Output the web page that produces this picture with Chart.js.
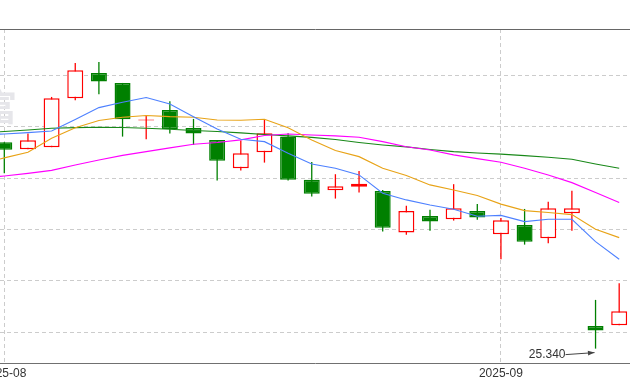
<!DOCTYPE html>
<html>
<head>
<meta charset="utf-8">
<script src="https://cdn.jsdelivr.net/npm/chart.js@4.4.1/dist/chart.umd.min.js"></script>
<style>
  html, body { margin: 0; padding: 0; background: #fff; }
  #wrap { width: 630px; height: 385px; }
</style>
</head>
<body>
<div id="wrap"><canvas id="kline"></canvas></div>
<script>
// Daily candles, 2025-08-01 .. 2025-09-08 (index 0..26)
const opens  = [27.348, 27.280, 27.300, 27.776, 28.022, 27.925, 27.560, 27.662, 27.487, 27.371,
                27.095, 27.251, 27.403, 26.982, 26.881, 26.916, 26.874, 26.471, 26.631, 26.599,
                26.680, 26.453, 26.544, 26.414, 26.658, 25.561, 25.568];
const highs  = [27.348, 27.432, 27.789, 28.120, 28.129, 27.925, 27.611, 27.747, 27.575, 27.371,
                27.364, 27.565, 27.436, 27.157, 27.037, 27.069, 26.884, 26.729, 26.690, 26.940,
                26.748, 26.612, 26.699, 26.768, 26.875, 25.814, 25.977];
const lows   = [27.047, 27.280, 27.300, 27.757, 27.815, 27.403, 27.377, 27.432, 27.322, 26.975,
                27.072, 27.150, 26.975, 26.819, 26.800, 26.858, 26.479, 26.449, 26.488, 26.586,
                26.595, 26.210, 26.352, 26.366, 26.488, 25.340, 25.568];
const closes = [27.276, 27.368, 27.776, 28.049, 27.938, 27.572, 27.570, 27.478, 27.432, 27.169,
                27.241, 27.436, 26.982, 26.848, 26.920, 26.943, 26.515, 26.680, 26.576, 26.706,
                26.615, 26.590, 26.381, 26.706, 26.706, 25.516, 25.704];

// moving averages, first value is the day before the visible window (index -1)
const ma5  = [27.420, 27.429, 27.442, 27.458, 27.570, 27.685, 27.737, 27.784, 27.721, 27.597, 27.478,
              27.377, 27.354, 27.241, 27.137, 27.095, 27.030, 26.852, 26.787, 26.738, 26.696,
              26.628, 26.636, 26.576, 26.599, 26.599, 26.381, 26.210];
const ma10 = [27.137, 27.196, 27.251, 27.387, 27.490, 27.560, 27.591, 27.609, 27.597, 27.591, 27.565,
              27.562, 27.572, 27.490, 27.370, 27.267, 27.208, 27.095, 27.025, 26.933, 26.884,
              26.829, 26.746, 26.683, 26.665, 26.644, 26.502, 26.420];
const ma20 = [26.996, 27.020, 27.045, 27.074, 27.127, 27.176, 27.220, 27.257, 27.293, 27.329, 27.346,
              27.371, 27.414, 27.429, 27.419, 27.410, 27.397, 27.354, 27.305, 27.273, 27.225,
              27.189, 27.154, 27.095, 27.030, 26.955, 26.858, 26.761];
const ma30 = [27.439, 27.453, 27.467, 27.484, 27.490, 27.494, 27.492, 27.484, 27.475, 27.463, 27.453,
              27.439, 27.424, 27.410, 27.395, 27.375, 27.346, 27.322, 27.303, 27.278, 27.257,
              27.244, 27.232, 27.218, 27.202, 27.183, 27.137, 27.095];

const tickIndex  = [0, 21];
const tickLabels = ['2025-08', '2025-09'];
const priceTicks = [25.5, 26.0, 26.5, 27.0, 27.5, 28.0];

const UP = '#ff0000';
const DOWN = '#008000';

const isUp = i => closes[i] >= opens[i];
const bodyData = opens.map((o, i) => ({ x: i, y: [o, closes[i]] }));
const wickData = lows.map((l, i) => ({ x: i, y: [l, highs[i]] }));
const maPoints = arr => arr.map((v, i) => ({ x: i - 1, y: v }));

function maLine(label, arr, color) {
    return {
        type: 'line',
        label: label,
        data: maPoints(arr),
        borderColor: color,
        borderWidth: 1.1,
        pointRadius: 0,
        tension: 0,
        order: 0
    };
}

// labels under the axis, watermark and the lowest-price marker
const overlay = {
    id: 'overlay',
    beforeDatasetsDraw(chart) {
        const ctx = chart.ctx;
        ctx.save();
        ctx.font = 'bold 36px "Noto Sans CJK SC", sans-serif';
        ctx.fillStyle = '#e6e6ea';
        ctx.textAlign = 'center';
        ctx.textBaseline = 'middle';
        ctx.fillText('富', -1, 107);
        ctx.restore();
    },
    afterDraw(chart) {
        const ctx = chart.ctx;
        const xs = chart.scales.x;
        const ys = chart.scales.y;
        ctx.save();
        ctx.font = '12px "Liberation Sans", Arial, sans-serif';
        ctx.fillStyle = '#333';
        ctx.textAlign = 'center';
        ctx.textBaseline = 'middle';
        tickIndex.forEach((v, k) => {
            ctx.fillText(tickLabels[k], xs.getPixelForValue(v), 374);
        });

        // lowest low
        let mi = 0;
        lows.forEach((v, i) => { if (v < lows[mi]) mi = i; });
        const px = xs.getPixelForValue(mi);
        const py = ys.getPixelForValue(lows[mi]);
        const sx = px - 30, sy = py + 6;
        const ex = px - 1, ey = py + 4;
        ctx.strokeStyle = '#444';
        ctx.fillStyle = '#444';
        ctx.lineWidth = 1;
        ctx.beginPath();
        ctx.moveTo(sx, sy);
        ctx.lineTo(ex, ey);
        ctx.stroke();
        const ang = Math.atan2(ey - sy, ex - sx);
        ctx.beginPath();
        ctx.moveTo(ex, ey);
        ctx.lineTo(ex - 7 * Math.cos(ang - 0.35), ey - 7 * Math.sin(ang - 0.35));
        ctx.lineTo(ex - 7 * Math.cos(ang + 0.35), ey - 7 * Math.sin(ang + 0.35));
        ctx.closePath();
        ctx.fill();
        ctx.fillStyle = '#333';
        ctx.textAlign = 'right';
        ctx.fillText(lows[mi].toFixed(3), sx, sy);
        ctx.restore();
    }
};

new Chart(document.getElementById('kline'), {
    data: {
        datasets: [
            maLine('MA5', ma5, '#4d80ff'),
            maLine('MA10', ma10, '#e8a317'),
            maLine('MA20', ma20, '#ff00ff'),
            maLine('MA30', ma30, '#188818'),
            {
                type: 'bar',
                label: 'body',
                data: bodyData,
                grouped: false,
                barThickness: 16,
                borderWidth: 1.5,
                borderSkipped: false,
                inflateAmount: 0,
                backgroundColor: ctx => isUp(ctx.dataIndex) ? '#ffffff' : DOWN,
                borderColor: ctx => isUp(ctx.dataIndex) ? UP : DOWN,
                order: 1
            },
            {
                type: 'bar',
                label: 'wick',
                data: wickData,
                grouped: false,
                barThickness: 1.3,
                borderWidth: 0,
                inflateAmount: 0,
                backgroundColor: ctx => isUp(ctx.dataIndex) ? UP : DOWN,
                order: 2
            }
        ]
    },
    options: {
        responsive: true,
        maintainAspectRatio: false,
        animation: false,
        layout: { padding: { top: 29, bottom: 22, left: 0, right: 0 } },
        plugins: {
            legend: { display: false },
            tooltip: { enabled: false }
        },
        scales: {
            x: {
                type: 'linear',
                position: 'bottom',
                offset: false,
                min: -0.182,
                max: 26.457,
                afterBuildTicks: scale => { scale.ticks = tickIndex.map(v => ({ value: v })); },
                ticks: { display: false },
                grid: { color: '#cccccc', lineWidth: 1, drawTicks: false, offset: false, borderDash: [4, 3] },
                border: { display: true, color: '#707070', width: 1, dash: [4, 3] }
            },
            xTop: {
                type: 'linear',
                position: 'top',
                offset: false,
                min: -0.182,
                max: 26.457,
                ticks: { display: false },
                grid: { display: false, drawTicks: false },
                border: { display: true, color: '#666666', width: 1 }
            },
            y: {
                type: 'linear',
                position: 'left',
                min: 25.2,
                max: 28.45,
                afterBuildTicks: scale => { scale.ticks = priceTicks.map(v => ({ value: v })); },
                ticks: { display: false },
                grid: { color: '#cccccc', lineWidth: 1, drawTicks: false, borderDash: [4, 3] },
                border: { display: false, dash: [4, 3] }
            }
        }
    },
    plugins: [overlay]
});
</script>
</body>
</html>
